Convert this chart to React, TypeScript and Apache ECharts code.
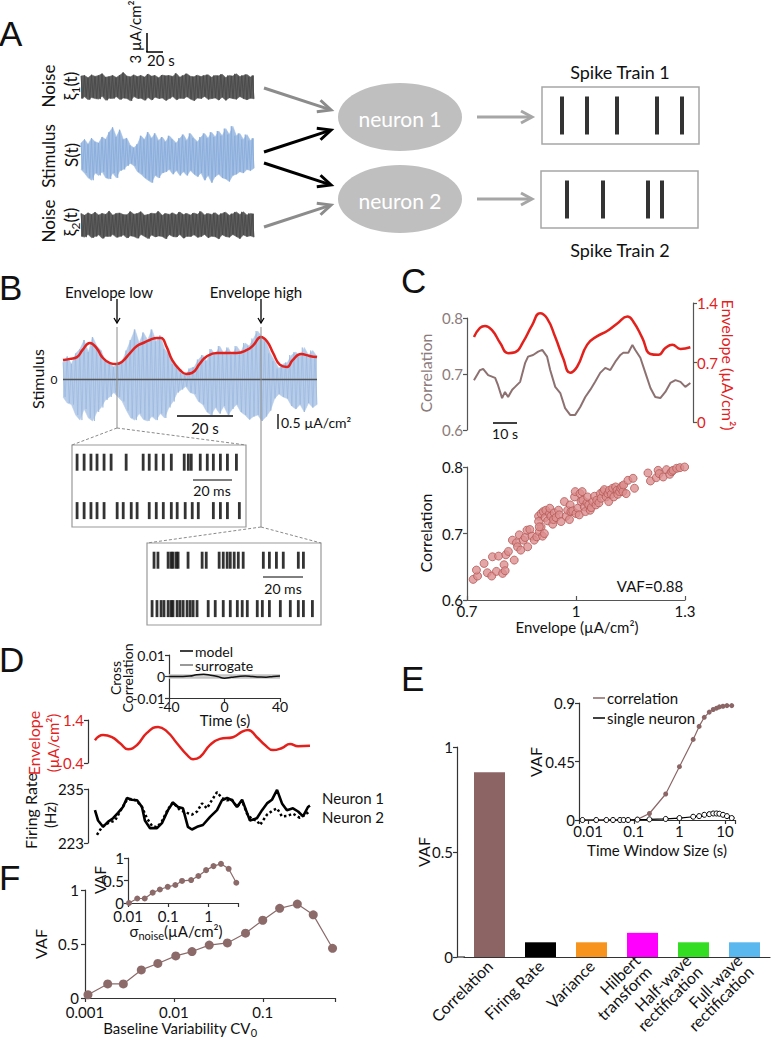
import React, { useEffect, useRef } from "react";
import * as echarts from "echarts";

const FONT = "Lato";
const RED = "#e3211c";
const BROWN = "#8c6666";

// ---------------- Panel A ----------------
const noise1Upper = [0.95,1.0,0.8,1.05,0.92,1.0,1.15,0.85,0.9,1.0,0.83,1.02,1.25,0.95,0.88,1.05,0.9,1.0,0.86,1.12,0.94,1.0,0.8,1.03,0.97,1.0,0.92,1.18,0.85,1.0,1.15,0.93,0.88,1.02,0.9,1.0,1.06,0.84,1.0,0.97,1.1,0.82,1.0,0.95,1.14,0.9,1.0,1.08,0.86,1.0];
const noise1Lower = [-1.0,-0.85,-1.1,-0.92,-1.0,-1.05,-0.8,-1.15,-0.98,-1.0,-0.84,-1.08,-0.96,-1.0,-1.2,-0.83,-1.0,-0.97,-1.15,-0.92,-1.12,-0.88,-1.0,-0.95,-1.16,-1.0,-0.83,-1.1,-0.97,-1.0,-0.84,-1.05,-1.18,-0.96,-1.0,-0.82,-1.07,-1.0,-0.95,-1.13,-0.88,-1.15,-0.94,-1.0,-1.06,-0.83,-1.0,-1.1,-0.97,-1.02];
const noise2Upper = [1.0,0.84,1.05,0.9,1.1,0.87,1.0,0.92,1.2,0.85,1.0,1.04,0.9,0.88,1.16,0.93,1.0,1.15,0.85,0.9,1.02,0.97,1.18,0.84,1.0,0.92,1.05,0.88,1.12,0.9,1.0,0.86,1.04,0.93,1.18,0.87,1.0,0.92,1.06,0.85,1.0,1.1,0.84,0.98,1.13,0.91,1.14,0.86,1.0,0.95];
const noise2Lower = [-0.97,-1.05,-0.82,-1.1,-1.0,-0.85,-1.16,-0.98,-1.0,-0.83,-1.07,-1.0,-0.86,-1.12,-0.94,-1.0,-1.15,-0.82,-1.0,-1.18,-0.87,-1.03,-0.95,-1.0,-1.19,-0.84,-1.0,-1.04,-0.83,-1.14,-0.98,-1.0,-0.85,-1.07,-1.0,-0.82,-1.1,-0.97,-1.02,-1.2,-0.85,-1.0,-1.06,-0.83,-1.0,-1.18,-0.86,-1.0,-0.94,-1.05];
const stimAUpper = [1.0,1.3,0.9,1.4,1.1,1.0,1.5,1.3,1.9,2.3,1.5,2.1,1.3,1.4,0.8,0.6,0.9,1.6,1.3,1.9,1.4,1.8,1.2,1.5,1.1,1.6,1.3,1.0,1.4,1.7,1.2,1.8,1.4,1.1,1.5,1.8,1.4,1.9,1.5,2.0,1.6,2.2,1.7,2.4,1.6,1.8,1.3,1.7,1.2,1.4];
const stimALower = [-1.2,-1.5,-1.9,-2.1,-1.5,-1.7,-1.4,-1.9,-2.0,-1.5,-1.9,-1.3,-1.2,-0.9,-0.7,-0.9,-1.4,-1.6,-1.9,-2.1,-2.3,-1.7,-1.9,-1.5,-1.4,-1.2,-1.6,-1.3,-1.7,-1.4,-1.7,-1.3,-1.6,-1.8,-1.5,-2.1,-1.7,-2.3,-1.8,-1.6,-1.9,-2.0,-2.2,-1.7,-1.6,-1.4,-1.5,-1.2,-1.3,-1.1];
const train1Spikes = [20, 45, 75, 115, 140];
const train2Spikes = [26, 62, 107, 121];

// ---------------- Panel B ----------------
const stimBUpper = [0.55,0.75,0.5,0.85,1.0,1.3,0.9,1.4,1.1,0.95,0.6,0.55,0.4,0.55,0.6,0.95,1.3,1.65,1.2,1.55,1.3,1.65,1.25,1.45,1.0,0.85,0.5,0.4,0.2,0.15,0.35,0.4,0.65,0.8,0.6,1.0,0.8,1.1,0.85,1.05,0.8,1.1,0.9,1.2,1.1,1.35,1.6,1.4,1.25,0.85,0.6,0.35,0.5,0.55,0.8,0.9,0.75,1.05,0.8,0.95,0.75];
const stimBLower = [-0.6,-0.8,-0.85,-1.2,-1.37,-1.0,-1.3,-1.4,-1.1,-0.95,-0.7,-0.6,-0.45,-0.6,-0.75,-1.05,-1.3,-1.37,-1.15,-1.35,-1.4,-1.25,-1.37,-1.15,-1.3,-0.95,-0.75,-0.45,-0.35,-0.25,-0.45,-0.5,-0.75,-0.85,-1.1,-1.2,-0.95,-1.15,-0.9,-1.2,-1.0,-0.85,-1.1,-1.2,-1.35,-1.25,-1.2,-1.4,-1.25,-1.05,-0.65,-0.5,-0.6,-0.65,-0.9,-1.0,-0.85,-1.1,-0.8,-0.95,-0.85];
const envBTime = [0,2.5,5,7,9.6,12,14,16.8,19,21,24,26.4,28.6,31,33.6,35,37,39,41.8,44,46,49,51,55,58.6,62,65.7,68,70.7,73,75,77.5,80,82,85,88,90.7];
const envBValue = [0.63,0.67,0.73,0.97,1.2,1.03,0.73,0.53,0.5,0.57,0.87,1.1,1.2,1.3,1.37,1.37,1.07,0.63,0.3,0.17,0.2,0.53,0.73,0.87,0.87,0.87,0.97,1.13,1.4,1.23,0.87,0.47,0.4,0.63,0.83,0.77,0.73];
const rasterLowN1 = [2.6,6.2,9.7,12.8,16.4,20,27.7,36.4,39.5,43,46.7,50.8,57.4,59.5,61,65.6,69.2,72.3,75.9,79.5,84.1];
const rasterLowN2 = [2.6,6.2,9.7,12.8,16.4,23.1,26.2,30.3,33.3,39.5,43.1,46.7,50.8,53.8,57.9,61.5,64.6,72.3,75.9,79.5,85.6];
const rasterHighN1 = [3.6,5.6,10.8,12.3,13.3,14.9,15.9,21,28.2,30.3,36.9,39,41,42.6,44.6,46.7,49.2,59.5,62.6,66.2,69.7,77.4,80];
const rasterHighN2 = [2.6,5.1,7.2,8.7,10.8,12.3,13.3,15.4,16.9,18.5,20.5,22.1,23.6,25.6,31.3,34.9,39,42.6,46.2,48.7,51.3,56.4,59,62.6,68.2,73.3,77.4,80,84.6];

// ---------------- Panel C ----------------
const corrTime = [2.9,5.4,6.7,8.8,11.7,12.9,14.6,15.8,17.1,18.8,20,22.1,24.2,25.4,27.5,29.6,31.3,33.3,34.6,36.7,38.8,40.8,42.9,45,47.1,49.2,51.3,53.3,55.4,57.5,59.6,61.7,63.8,65,67.1,68.8,70,72.1,74.2,76.3,78.3,80.4,82.5,84.6,86.7,88.8,90.8,92.9];
const corrValue = [0.689,0.707,0.709,0.698,0.693,0.68,0.657,0.668,0.659,0.672,0.677,0.686,0.72,0.731,0.734,0.74,0.743,0.731,0.707,0.677,0.666,0.639,0.627,0.627,0.641,0.659,0.672,0.686,0.702,0.711,0.707,0.722,0.734,0.738,0.738,0.752,0.743,0.729,0.702,0.675,0.659,0.657,0.668,0.684,0.689,0.686,0.677,0.684];
const envCTime = [2.9,5.4,7.5,10.4,13.8,17.1,20,23.3,27.1,30.4,33.3,36.7,40,42.9,45.8,50,54.2,58.3,62.5,66.7,69.2,72.9,76.3,79.6,82.5,85.4,88.8,92.9];
const envCValue = [1.0,1.106,1.13,1.08,0.93,0.81,0.82,0.94,1.14,1.28,1.22,1.0,0.75,0.58,0.65,0.91,1.01,1.07,1.16,1.24,1.18,0.99,0.8,0.79,0.87,0.91,0.86,0.88];
const scatterEnv = [0.717,0.729,0.726,0.747,0.756,0.768,0.770,0.781,0.787,0.802,0.798,0.805,0.807,0.814,0.825,0.830,0.836,0.839,0.844,0.848,0.855,0.860,0.865,0.867,0.873,0.879,0.885,0.892,0.899,0.904,0.908,0.913,0.897,0.897,0.899,0.904,0.910,0.915,0.917,0.922,0.927,0.928,0.931,0.936,0.938,0.940,0.945,0.952,0.954,0.959,0.968,0.973,0.977,0.982,0.984,0.986,0.991,0.996,0.998,1.000,1.005,1.009,1.011,1.014,1.017,1.019,1.023,1.026,1.030,1.032,1.035,1.039,1.042,1.046,1.051,1.055,1.057,1.063,1.067,1.069,1.074,1.078,1.083,1.088,1.090,1.092,1.097,1.101,1.104,1.109,1.113,1.115,1.120,1.123,1.126,1.129,1.131,1.138,1.143,1.157,1.161,1.198,1.205,1.221,1.226,1.229,1.240,1.249,1.258,1.263,1.267,1.277,1.286,1.295,1.299];
const scatterCorr = [0.631,0.636,0.645,0.655,0.641,0.636,0.665,0.643,0.666,0.653,0.640,0.644,0.668,0.673,0.690,0.660,0.686,0.680,0.698,0.675,0.690,0.694,0.705,0.680,0.706,0.696,0.690,0.695,0.703,0.710,0.696,0.700,0.726,0.718,0.710,0.730,0.733,0.724,0.735,0.719,0.730,0.738,0.726,0.714,0.721,0.731,0.724,0.735,0.728,0.718,0.748,0.726,0.735,0.721,0.743,0.733,0.734,0.755,0.763,0.730,0.738,0.728,0.760,0.748,0.763,0.750,0.740,0.733,0.746,0.755,0.743,0.735,0.739,0.748,0.756,0.743,0.750,0.746,0.760,0.753,0.763,0.766,0.755,0.760,0.748,0.765,0.759,0.768,0.755,0.770,0.765,0.759,0.763,0.768,0.771,0.763,0.773,0.760,0.780,0.783,0.768,0.791,0.779,0.784,0.795,0.790,0.785,0.796,0.789,0.793,0.795,0.798,0.799,0.805,0.800];

// ---------------- Panel D ----------------
const xcorrLag = [-40,-35,-30,-25,-20,-15,-10,-5,0,5,10,15,20,25,30,35,40];
const xcorrModel = [0,0,0,0.0002,0.0008,0.001,0.0006,0,-0.0008,-0.0004,0,0.0002,0,-0.0002,-0.0003,0,0.0002];
const surrogateBand = [0.0011, -0.0011];
const envDTime = [3.1,6.7,10.7,14.3,17.9,21.9,26.3,31.3,35.3,39.7,44.2,46.9,50,54.5,58.9,64.7,68.8,71.4,75.4,79,82.6,86.6,90.2,93.8,99.1];
const envDValue = [0.93,1.05,1.0,0.86,0.72,0.82,1.1,1.24,1.13,0.86,0.59,0.49,0.54,0.82,0.96,1.0,1.13,1.17,1.0,0.82,0.7,0.75,0.84,0.79,0.8];
const fr1Time = [3.1,4.5,6.7,8.9,11.2,13.4,15.6,17.4,19.6,21.9,24.1,25.4,27.7,30.8,33,35.7,37.9,40.2,42.4,44.6,46.4,48.7,51.3,54.5,57.6,59.8,62.1,64.3,66.5,68.8,71,72.3,75.4,77.7,79.9,82.1,84.4,86.6,88.8,91.5,93.8,96,98.2,99.1];
const fr1Value = [230.3,228,226.6,227.7,228.5,229.7,231,233,232.6,232.5,231,228,226.3,226.3,227.4,230.3,232,231,230.7,226.6,226,226.6,227,228.8,230.3,232.5,233,232.5,231,232.6,229.7,228,228.5,230.3,231.8,232.6,234.8,231.8,230.3,230.7,230,228.9,231,231.3];
const fr2Time = [4,6.3,8.9,12.1,14.3,17.4,19.6,21.9,24.1,26.3,28.6,30.8,33,35.7,37.9,41.1,44.2,46.4,48.7,50.9,53.1,55.4,57.6,59.8,62.1,64.3,66.5,68.8,71,73.2,75.4,76.8,79.9,82.6,84.4,86.6,88.8,91.5,94.6,97.8,99.1];
const fr2Value = [224.8,226.6,227.4,228,230,232.6,232.8,232.3,231,228.5,226.8,226.5,227.8,230.5,232,230.3,229.7,229.3,230,231.8,230.7,232.6,234.3,233,232.5,232.6,231,232.4,229.5,228.3,228,227,229.3,230.3,230.7,228.9,229,229.5,228.6,229.6,230.2];

// ---------------- Panel E ----------------
const methods = ["Correlation", "Firing Rate", "Variance", "Hilbert\ntransform", "Half-wave\nrectification", "Full-wave\nrectification"];
const methodVAF = [0.88, 0.07, 0.07, 0.115, 0.07, 0.07];
const methodColors = ["#8c6464", "#000000", "#f7941d", "#ff00ff", "#33dd22", "#5bb8ee"];
const windowSize = [0.0075,0.015,0.025,0.035,0.05,0.06,0.075,0.12,0.22,0.5,1,2,2.7,3.5,4.5,5.5,6.5,7.5,9,11,14];
const vafCorrelation = [0,0,0,0,0,0,0,0.005,0.05,0.2,0.41,0.62,0.72,0.79,0.83,0.85,0.86,0.87,0.875,0.88,0.88];
const vafSingle = [0,0,0,0,0,0,0,0.003,0.005,0.008,0.015,0.025,0.03,0.04,0.045,0.05,0.05,0.048,0.04,0.03,0.015];

// ---------------- Panel F ----------------
const cv0 = [0.00108,0.0018,0.0027,0.0043,0.0066,0.0105,0.016,0.025,0.04,0.064,0.1,0.155,0.245,0.37,0.61];
const vafCV = [0.03,0.13,0.13,0.26,0.32,0.39,0.43,0.49,0.51,0.6,0.72,0.83,0.87,0.77,0.46];
const sigmaNoise = [0.0106,0.017,0.026,0.041,0.062,0.097,0.15,0.22,0.37,0.56,0.87,1.33,2.04,3.16,4.9];
const vafSigma = [0,0.1,0.1,0.23,0.3,0.36,0.4,0.49,0.51,0.6,0.73,0.82,0.87,0.76,0.45];

function logFmt(v: number) {
  const l = Math.log10(v);
  return Math.abs(l - Math.round(l)) < 1e-6 ? String(Number(v.toPrecision(1))) : "";
}

function buildOption() {
  const grids: any[] = [];
  const xAxes: any[] = [];
  const yAxes: any[] = [];
  const series: any[] = [];
  const g: any[] = [];

  const addGrid = (o: any) => { grids.push({ containLabel: false, ...o }); return grids.length - 1; };
  const addX = (o: any) => { xAxes.push(o); return xAxes.length - 1; };
  const addY = (o: any) => { yAxes.push(o); return yAxes.length - 1; };
  const vis = (o: any) => ({
    axisLine: { show: true, onZero: false, lineStyle: { color: o.lc || "#333", width: 1.2 } },
    axisTick: { show: true, inside: !!o.inside, length: 4, lineStyle: { color: o.lc || "#333", width: 1.2 } },
    axisLabel: { fontFamily: FONT, fontSize: o.fs || 15, color: o.c || "#111", margin: o.margin ?? 4, lineHeight: Math.round((o.fs || 15) * 1.05), ...(o.fmt ? { formatter: o.fmt } : {}) },
    splitLine: { show: false },
  });
  // noise trace: a filled band between the read extremes, plus a trace alternating between them
  const noise = (gi: number, yi: number, up: number[], lo: number[], fill: string, stroke: string, w: number) => {
    const xb = addX({ gridIndex: gi, type: "category", boundaryGap: false, show: false, data: up.map((_, i) => i) });
    [up, lo].forEach((d) => series.push({
      type: "line", xAxisIndex: xb, yAxisIndex: yi, data: d, symbol: "none", silent: true,
      lineStyle: { color: fill, width: 0.6 }, areaStyle: { color: fill, opacity: 1 },
    }));
    const d = up.flatMap((u, i) => [u, lo[i]]);
    const xz = addX({ gridIndex: gi, type: "category", boundaryGap: false, show: false, data: d.map((_, i) => i) });
    series.push({ type: "line", xAxisIndex: xz, yAxisIndex: yi, data: d, symbol: "none", silent: true, lineStyle: { color: stroke, width: w } });
    return xb;
  };
  const spikes = (xi: number, yi: number, times: number[], row: number, size: number[]) => {
    series.push({
      type: "scatter", xAxisIndex: xi, yAxisIndex: yi, symbol: "rect", symbolSize: size, silent: true,
      itemStyle: { color: "#000" }, data: times.map((t) => [t, row]),
    });
  };

  // ===== Panel A =====
  const aBands: [number, number, number, number[], number[], string, string][] = [
    [72, 30, 1.3, noise1Upper, noise1Lower, "#5f5f5f", "#4a4a4a"],
    [125, 60, 2.5, stimAUpper, stimALower, "#a3bfe4", "#8aaddb"],
    [210, 30, 1.3, noise2Upper, noise2Lower, "#5f5f5f", "#4a4a4a"],
  ];
  aBands.forEach(([top, h, r, up, lo, fill, stroke]) => {
    const gi = addGrid({ left: 81, top, width: 173, height: h });
    const yi = addY({ gridIndex: gi, type: "value", min: -r, max: r, show: false });
    noise(gi, yi, up, lo, fill, stroke, 0.9);
  });
  [[542, 87, train1Spikes], [541, 171, train2Spikes]].forEach(([left, top, sp]: any) => {
    const gi = addGrid({ left, top, width: 157, height: 57, show: true, borderColor: "#a6a6a6", borderWidth: 1.5 });
    const xi = addX({ gridIndex: gi, type: "value", min: 0, max: 157, show: false });
    const yi = addY({ gridIndex: gi, type: "value", min: 0, max: 1, show: false });
    spikes(xi, yi, sp, 0.5, [4, 38]);
  });

  // ===== Panel B =====
  {
    const gi = addGrid({ left: 63, top: 319, width: 254, height: 120 });
    const yi = addY({ gridIndex: gi, type: "value", min: -2, max: 2, show: false });
    const xc = noise(gi, yi, stimBUpper, stimBLower, "#b8cdea", "#9ab8df", 0.7);
    const xv = addX({ gridIndex: gi, type: "value", min: 0, max: 90.7, show: false });
    series.push({
      type: "line", xAxisIndex: xc, yAxisIndex: yi, data: [], symbol: "none", silent: true,
      markLine: { symbol: "none", silent: true, label: { show: false }, lineStyle: { color: "#555", type: "solid", width: 1.3 }, data: [{ yAxis: 0 }] },
    });
    series.push({
      type: "line", xAxisIndex: xv, yAxisIndex: yi, smooth: true, symbol: "none", silent: true,
      lineStyle: { color: RED, width: 2.5 }, data: envBTime.map((t, i) => [t, envBValue[i]]),
    });
  }
  [[72, 445, rasterLowN1, rasterLowN2], [147, 543, rasterHighN1, rasterHighN2]].forEach(([left, top, r1, r2]: any) => {
    const gi = addGrid({ left, top, width: 174, height: 82, show: true, borderColor: "#999", borderWidth: 1.2 });
    const xi = addX({ gridIndex: gi, type: "value", min: 0, max: 89, show: false });
    const yi = addY({ gridIndex: gi, type: "value", min: 0, max: 1, show: false });
    spikes(xi, yi, r1, 0.79, [2.8, 17]);
    spikes(xi, yi, r2, 0.2, [2.8, 17]);
  });

  // ===== Panel C top =====
  {
    const gi = addGrid({ left: 467, top: 318, width: 226, height: 112 });
    const xi = addX({ gridIndex: gi, type: "value", min: 0, max: 94, show: false });
    const yi = addY({ gridIndex: gi, type: "value", min: 0.6, max: 0.8, interval: 0.1, ...vis({ lc: "#555", c: "#8c7b7b" }) });
    series.push({ type: "line", xAxisIndex: xi, yAxisIndex: yi, symbol: "none", silent: true, lineStyle: { color: "#8d7171", width: 2 }, data: corrTime.map((t, i) => [t, corrValue[i]]) });
    const gi2 = addGrid({ left: 467, top: 303, width: 226, height: 119 });
    const xi2 = addX({ gridIndex: gi2, type: "value", min: 0, max: 94, show: false });
    const yi2 = addY({ gridIndex: gi2, type: "value", position: "right", min: 0, max: 1.4, interval: 0.7, ...vis({ lc: "#555", c: RED }) });
    series.push({ type: "line", xAxisIndex: xi2, yAxisIndex: yi2, smooth: true, symbol: "none", silent: true, lineStyle: { color: RED, width: 2.5 }, data: envCTime.map((t, i) => [t, envCValue[i]]) });
  }
  // ===== Panel C scatter =====
  {
    const gi = addGrid({ left: 467, top: 467, width: 218, height: 133 });
    const xi = addX({ gridIndex: gi, type: "value", min: 0.7, max: 1.3, interval: 0.3, ...vis({ lc: "#555", inside: true, margin: 3 }) });
    const yi = addY({ gridIndex: gi, type: "value", min: 0.6, max: 0.8, interval: 0.1, ...vis({ lc: "#555" }) });
    series.push({
      type: "scatter", xAxisIndex: xi, yAxisIndex: yi, symbol: "circle", symbolSize: 8, silent: true,
      itemStyle: { color: "#dc8f8f", borderColor: "#b45a58", borderWidth: 1 },
      data: scatterEnv.map((e, i) => [e, scatterCorr[i]]),
    });
  }

  // ===== Panel D =====
  {
    const gi = addGrid({ left: 169, top: 655, width: 111, height: 43 });
    const xi = addX({ gridIndex: gi, type: "value", min: -40, max: 40, interval: 40, ...vis({ fs: 14, margin: 1 }) });
    const yi = addY({ gridIndex: gi, type: "value", min: -0.01, max: 0.01, interval: 0.01, ...vis({ fs: 14 }) });
    surrogateBand.forEach((v) => series.push({
      type: "line", xAxisIndex: xi, yAxisIndex: yi, symbol: "none", silent: true,
      lineStyle: { width: 0 }, areaStyle: { color: "#c4c4c4", opacity: 1 }, data: [[-40, v], [40, v]],
    }));
    series.push({ type: "line", xAxisIndex: xi, yAxisIndex: yi, smooth: true, symbol: "none", silent: true, lineStyle: { color: "#111", width: 1.5 }, data: xcorrLag.map((t, i) => [t, xcorrModel[i]]) });
  }
  {
    const gi = addGrid({ left: 88, top: 720, width: 224, height: 43 });
    const xi = addX({ gridIndex: gi, type: "value", min: 0, max: 100, show: false });
    const yi = addY({ gridIndex: gi, type: "value", min: 0.4, max: 1.4, interval: 1, ...vis({ c: RED }) });
    series.push({ type: "line", xAxisIndex: xi, yAxisIndex: yi, smooth: true, symbol: "none", silent: true, lineStyle: { color: RED, width: 2.5 }, data: envDTime.map((t, i) => [t, envDValue[i]]) });
  }
  {
    const gi = addGrid({ left: 88, top: 789, width: 224, height: 54 });
    const xi = addX({ gridIndex: gi, type: "value", min: 0, max: 100, show: false });
    const yi = addY({ gridIndex: gi, type: "value", min: 223, max: 235, interval: 12, ...vis({}) });
    series.push({ type: "line", xAxisIndex: xi, yAxisIndex: yi, symbol: "none", silent: true, lineStyle: { color: "#000", width: 2.5, type: "dotted" }, data: fr2Time.map((t, i) => [t, fr2Value[i]]) });
    series.push({ type: "line", xAxisIndex: xi, yAxisIndex: yi, symbol: "none", silent: true, lineStyle: { color: "#000", width: 2.6 }, data: fr1Time.map((t, i) => [t, fr1Value[i]]) });
  }

  // ===== Panel E bars =====
  {
    const gi = addGrid({ left: 464, top: 747, width: 306, height: 210 });
    const xi = addX({
      gridIndex: gi, type: "category", data: methods,
      axisLine: { show: true, lineStyle: { color: "#333", width: 1.2 } }, axisTick: { show: false },
      axisLabel: { interval: 0, rotate: 45, fontFamily: FONT, fontSize: 16, color: "#111", margin: 6, lineHeight: 16 },
    });
    const yi = addY({ gridIndex: gi, type: "value", min: 0, max: 1, interval: 0.5, offset: 7, ...vis({}) });
    series.push({
      type: "bar", xAxisIndex: xi, yAxisIndex: yi, barWidth: 31, silent: true,
      data: methodVAF.map((v, i) => ({ value: v, itemStyle: { color: methodColors[i] } })),
    });
  }
  // ===== Panel E inset =====
  {
    const gi = addGrid({ left: 579, top: 703, width: 156, height: 117 });
    const xi = addX({ gridIndex: gi, type: "log", logBase: 10, min: 0.0063, max: 16.5, ...vis({ fs: 15, fmt: logFmt, margin: 3 }) });
    const yi = addY({ gridIndex: gi, type: "value", min: 0, max: 0.9, interval: 0.45, ...vis({}) });
    series.push({ type: "line", xAxisIndex: xi, yAxisIndex: yi, symbol: "circle", symbolSize: 5, silent: true, lineStyle: { color: BROWN, width: 1.2 }, itemStyle: { color: BROWN }, data: windowSize.map((w, i) => [w, vafCorrelation[i]]) });
    series.push({ type: "line", xAxisIndex: xi, yAxisIndex: yi, symbol: "circle", symbolSize: 5, silent: true, lineStyle: { color: "#000", width: 1.2 }, itemStyle: { color: "#fff", borderColor: "#000", borderWidth: 1 }, data: windowSize.map((w, i) => [w, vafSingle[i]]) });
  }

  // ===== Panel F =====
  {
    const gi = addGrid({ left: 85, top: 890, width: 250, height: 108 });
    const xi = addX({ gridIndex: gi, type: "log", logBase: 10, min: 0.001, max: 0.65, ...vis({ fmt: logFmt, margin: 6 }) });
    const yi = addY({ gridIndex: gi, type: "value", min: 0, max: 1, interval: 0.5, ...vis({ margin: 6 }) });
    series.push({ type: "line", xAxisIndex: xi, yAxisIndex: yi, symbol: "circle", symbolSize: 9, silent: true, lineStyle: { color: "#8c6a6a", width: 1.2 }, itemStyle: { color: "#8c6a6a" }, data: cv0.map((c, i) => [c, vafCV[i]]) });
  }
  {
    const gi = addGrid({ left: 128, top: 858, width: 110, height: 45 });
    const xi = addX({ gridIndex: gi, type: "log", logBase: 10, min: 0.01, max: 5.4, ...vis({ fs: 15, fmt: logFmt, margin: 5 }) });
    const yi = addY({ gridIndex: gi, type: "value", min: 0, max: 1, interval: 0.5, ...vis({ fs: 15, margin: 4 }) });
    series.push({ type: "line", xAxisIndex: xi, yAxisIndex: yi, symbol: "circle", symbolSize: 6, silent: true, lineStyle: { color: "#8c6a6a", width: 1.2 }, itemStyle: { color: "#8c6a6a" }, data: sigmaNoise.map((c, i) => [c, vafSigma[i]]) });
  }

  // ===== graphics =====
  const rich = (fs: number, c: string) => ({
    n: { fontSize: fs, fontFamily: FONT, lineHeight: Math.round(fs * 1.3), fill: c },
    s: { fontSize: Math.round(fs * 0.7), fontFamily: FONT, lineHeight: Math.round(fs * 0.72), verticalAlign: "bottom", fill: c },
  });
  const T = (x: number, y: number, text: string, o: any = {}) => {
    const fs = o.fs || 15; const c = o.c || "#111";
    const style: any = {
      text, fontSize: fs, fontFamily: o.ff || FONT, fill: c, fontWeight: o.fw || "normal",
      align: o.align || "center", verticalAlign: o.va || "middle", lineHeight: Math.round(fs * 1.15), rich: rich(fs, c),
    };
    if (o.rot) g.push({ type: "group", x, y, rotation: o.rot, z: 50, children: [{ type: "text", x: 0, y: 0, z: 50, style }] });
    else g.push({ type: "text", x, y, z: 50, style });
  };
  const L = (x1: number, y1: number, x2: number, y2: number, c = "#000", w = 1.5, dash?: number[]) =>
    g.push({ type: "line", z: 40, shape: { x1, y1, x2, y2 }, style: { stroke: c, lineWidth: w, lineDash: dash } });
  const arrow = (x1: number, y1: number, x2: number, y2: number, c: string, w: number, hl: number, hw: number) => {
    const a = Math.atan2(y2 - y1, x2 - x1); const co = Math.cos(a), si = Math.sin(a);
    const bx = x2 - hl * co, by = y2 - hl * si;
    L(x1, y1, x2 - co * w * 0.6, y2 - si * w * 0.6, c, w);
    g.push({ type: "polyline", z: 40, shape: { points: [[bx + hw * si, by - hw * co], [x2, y2], [bx - hw * si, by + hw * co]] }, style: { stroke: c, lineWidth: w, fill: "none" } });
  };
  const UP = Math.PI / 2;

  // panel letters
  [["A", 0, 33], ["B", 0, 287], ["C", 402, 280], ["D", 0, 659], ["E", 402, 678], ["F", 0, 877]].forEach(([t, x, y]: any) =>
    T(x - 1, y, t, { fs: 35, ff: "Liberation Sans", align: "left" }));

  // Panel A
  L(147, 33, 147, 52, "#000", 1.5); L(146.3, 52, 163, 52, "#000", 1.5);
  T(147, 60, "20 s", { fs: 15, align: "left" });
  T(135, 32, "3 µA/cm²", { fs: 15, rot: UP });
  T(48, 86, "Noise", { fs: 17, rot: UP }); T(70, 86, "{n|ξ}{s|1}{n|(t)}", { fs: 17, rot: UP });
  T(48, 156, "Stimulus", { fs: 17, rot: UP }); T(71, 155, "S(t)", { fs: 17, rot: UP });
  T(48, 221, "Noise", { fs: 17, rot: UP }); T(70, 222, "{n|ξ}{s|2}{n|(t)}", { fs: 17, rot: UP });
  arrow(264, 88, 331, 110, "#8c8c8c", 3, 13, 6);
  arrow(264, 152, 331, 130, "#000", 3, 13, 6);
  arrow(264, 163, 331, 185, "#000", 3, 13, 6);
  arrow(264, 227, 331, 205, "#8c8c8c", 3, 13, 6);
  g.push({ type: "ellipse", z: 30, shape: { cx: 400, cy: 117, rx: 62, ry: 34 }, style: { fill: "#bfbfbf" } });
  g.push({ type: "ellipse", z: 30, shape: { cx: 400, cy: 199, rx: 62, ry: 34 }, style: { fill: "#bfbfbf" } });
  T(400, 118, "neuron 1", { fs: 21, c: "#fff" }); T(400, 200, "neuron 2", { fs: 21, c: "#fff" });
  arrow(477, 117, 532, 117, "#a6a6a6", 3, 11, 6);
  arrow(477, 199, 532, 199, "#a6a6a6", 3, 11, 6);
  T(620, 72, "Spike Train 1", { fs: 18 }); T(620, 250, "Spike Train 2", { fs: 18 });

  // Panel B
  T(109, 292, "Envelope low", { fs: 15 }); T(256, 292, "Envelope high", { fs: 15 });
  arrow(117, 299, 117, 323, "#000", 1.3, 5, 3); arrow(261, 299, 261, 323, "#000", 1.3, 5, 3);
  L(117, 327, 117, 428, "#8a8a8a", 1); L(261, 327, 261, 527, "#8a8a8a", 1);
  L(117, 428, 72, 445, "#8a8a8a", 1, [3, 2]); L(117, 428, 246, 445, "#8a8a8a", 1, [3, 2]);
  L(261, 527, 147, 543, "#8a8a8a", 1, [3, 2]); L(261, 527, 321, 543, "#8a8a8a", 1, [3, 2]);
  T(37, 379, "Stimulus", { fs: 16, rot: UP }); T(54, 379, "0", { fs: 12 });
  L(177, 416, 233, 416, "#000", 1.5); T(205, 428, "20 s", { fs: 15 });
  L(278, 414, 278, 429, "#000", 1.3); T(281, 422, "0.5 µA/cm²", { fs: 14, align: "left" });
  L(193, 480, 232, 480, "#000", 1); T(212, 490, "20 ms", { fs: 14 });
  L(263, 577, 303, 577, "#000", 1); T(283, 588, "20 ms", { fs: 14 });

  // Panel C
  T(425, 373, "Correlation", { fs: 16, c: "#8c7b7b", rot: UP });
  T(728, 365, "Envelope (µA/cm²)", { fs: 16, c: RED, rot: -UP });
  L(493, 423, 517, 423, "#000", 1.5); T(505, 433, "10 s", { fs: 14 });
  T(425, 533, "Correlation", { fs: 16, rot: UP });
  T(577, 627, "Envelope (µA/cm²)", { fs: 15 });
  T(650, 586, "VAF=0.88", { fs: 15 });

  // Panel D
  T(115, 678, "Cross", { fs: 14, rot: UP }); T(127, 678, "Correlation", { fs: 14, rot: UP });
  L(180, 651, 193, 651, "#000", 1.5); T(195, 651, "model", { fs: 14, align: "left" });
  L(180, 665, 193, 665, "#777", 1.5); T(195, 665, "surrogate", { fs: 14, align: "left" });
  T(225, 720, "Time (s)", { fs: 15 });
  T(33, 743, "Envelope", { fs: 16, c: RED, rot: UP }); T(53, 743, "(µA/cm²)", { fs: 15, c: RED, rot: UP });
  T(30, 811, "Firing Rate", { fs: 16, rot: UP }); T(50, 815, "(Hz)", { fs: 15, rot: UP });
  T(322, 798, "Neuron 1", { fs: 15, align: "left" }); T(322, 817, "Neuron 2", { fs: 15, align: "left" });

  // Panel E
  L(457, 957, 465, 957, "#333", 1.2);
  T(423, 852, "VAF", { fs: 16, rot: UP });
  T(535, 762, "VAF", { fs: 16, rot: UP });
  T(657, 850, "Time Window Size (s)", { fs: 15 });
  L(593, 698, 605, 698, BROWN, 1.5); T(607, 698, "correlation", { fs: 15, align: "left" });
  L(593, 718, 605, 718, "#000", 1.5); T(607, 718, "single neuron", { fs: 15, align: "left" });

  // Panel F
  T(40, 944, "VAF", { fs: 16, rot: UP });
  T(180, 1028, "{n|Baseline Variability CV}{s|0}", { fs: 15 });
  T(100, 880, "VAF", { fs: 15, rot: UP });
  T(176, 931, "{n|σ}{s|noise}{n|(µA/cm²)}", { fs: 15 });

  return {
    animation: false,
    backgroundColor: "#ffffff",
    textStyle: { fontFamily: FONT },
    grid: grids,
    xAxis: xAxes,
    yAxis: yAxes,
    series,
    graphic: { elements: g },
  };
}

export default function App() {
  const ref = useRef<HTMLDivElement>(null);
  useEffect(() => {
    const chart = echarts.init(ref.current as HTMLDivElement, null, { renderer: "svg" });
    chart.setOption(buildOption() as any);
    return () => chart.dispose();
  }, []);
  return <div ref={ref} style={{ position: "absolute", left: 0, top: 0, width: 773, height: 1039, background: "#fff" }} />;
}
